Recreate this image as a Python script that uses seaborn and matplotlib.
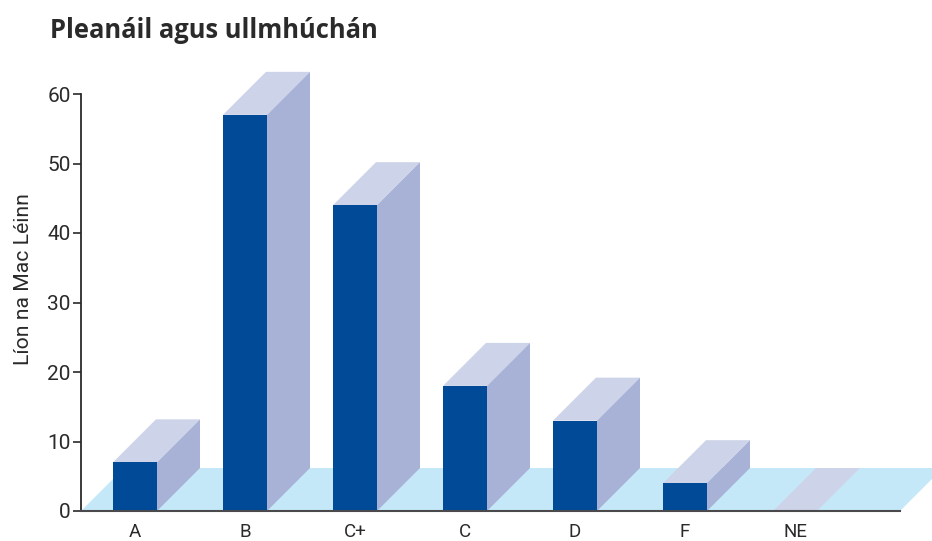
import matplotlib
matplotlib.use("Agg")
import matplotlib.pyplot as plt
import seaborn as sns
import pandas as pd
from matplotlib.patches import Polygon

grades = ["A", "B", "C+", "C", "D", "F", "NE"]
students = [7, 57, 44, 18, 13, 4, 0]
y_ticks = [0, 10, 20, 30, 40, 50, 60]
title = "Pleanáil agus ullmhúchán"
y_label = "Líon na Mac Léinn"

FRONT, SIDE, TOP, FLOOR, INK = "#004a98", "#a8b1d6", "#cdd3e8", "#c5e8f8", "#2b2a2b"
W, H = 932, 541
L, R, T, B = 81, 900, 94, 511
BAR_W = 0.4
DX = 43 / 110          # depth of the 3D effect, in category units
DY = 43 / (417 / 60)   # depth of the 3D effect, in value units

sns.set_theme(style="white")
plt.rcParams["font.family"] = ["Roboto", "DejaVu Sans"]

fig = plt.figure(figsize=(W / 100, H / 100), dpi=100, facecolor="white")
ax = fig.add_axes([L / W, 1 - B / H, (R - L) / W, (B - T) / H])

df = pd.DataFrame({"grade": grades, "students": students})
sns.barplot(data=df, x="grade", y="students", color=FRONT, saturation=1,
            width=BAR_W, ax=ax, zorder=5, linewidth=0, edgecolor="none")
for p in ax.patches:
    p.set_clip_on(False)

x_left, x_right = (L - 135) / 110, (R - 135) / 110
ax.set_xlim(x_left, x_right)
ax.set_ylim(0, 60)

# floor
ax.add_patch(Polygon([(x_left, 0), (x_right, 0), (x_right + DX, DY), (x_left + DX, DY)],
                     closed=True, fc=FLOOR, ec="none", clip_on=False, zorder=1))
# 3D faces
for i, v in enumerate(students):
    x0, x1 = i - BAR_W / 2, i + BAR_W / 2
    ax.add_patch(Polygon([(x0, v), (x1, v), (x1 + DX, v + DY), (x0 + DX, v + DY)],
                         closed=True, fc=TOP, ec="none", clip_on=False, zorder=3))
    if v > 0:
        ax.add_patch(Polygon([(x1, 0), (x1 + DX, DY), (x1 + DX, v + DY), (x1, v)],
                             closed=True, fc=SIDE, ec="none", clip_on=False, zorder=4))

for s in ("top", "right"):
    ax.spines[s].set_visible(False)
ax.spines["left"].set_color(INK)
ax.spines["left"].set_linewidth(1.3)
ax.spines["bottom"].set_color("#4a4a4c")
ax.spines["bottom"].set_linewidth(1.5)
for s in ax.spines.values():
    s.set_zorder(6)

ax.set_yticks(y_ticks)
ax.tick_params(axis="y", left=True, length=5.5, width=1.2, color=INK, pad=2,
               labelsize=15, labelcolor=INK)
ax.tick_params(axis="x", bottom=False, pad=2.5, labelsize=13.5, labelcolor=INK)
ax.set_xlabel("")
ax.set_ylabel("")
fig.text(24 / W, 1 - 279 / H, y_label, rotation=90, ha="center", va="center",
         fontsize=15.2, color=INK)
fig.text(50 / W, 1 - 30 / H, title, ha="left", va="center", fontsize=18.4,
         fontweight="bold", color=INK, family=["Open Sans", "DejaVu Sans"])

fig.savefig("out.png", dpi=100)
